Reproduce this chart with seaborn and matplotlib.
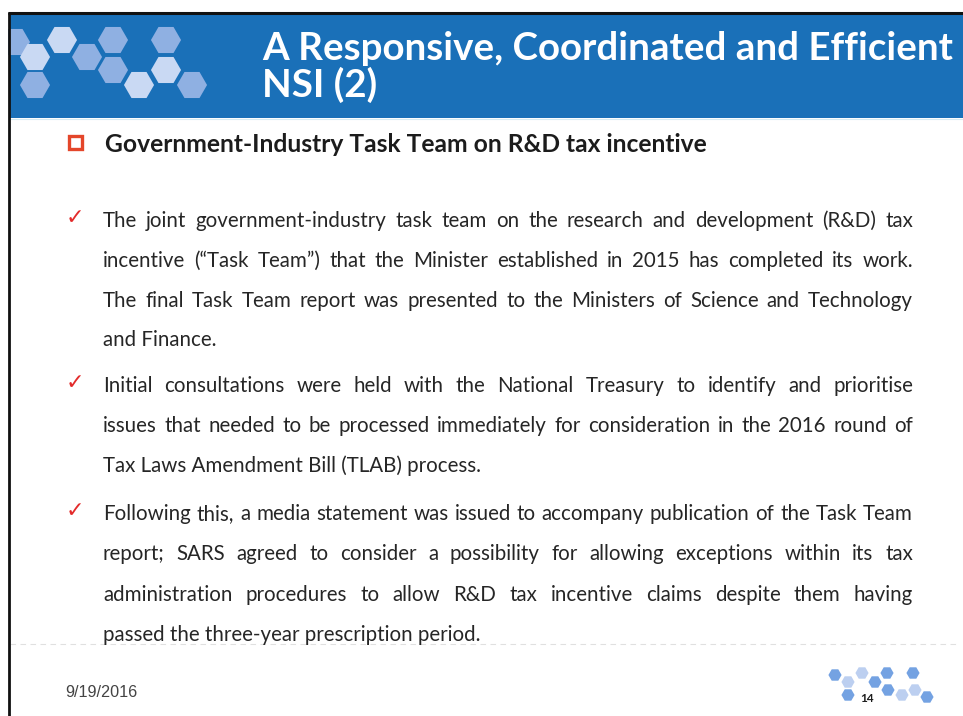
import matplotlib
matplotlib.use("Agg")
import matplotlib.pyplot as plt
import seaborn as sns
import pandas as pd
from matplotlib.patches import Rectangle

# ---------------- data ----------------
title_lines = ["A Responsive, Coordinated and Efficient", "NSI (2)"]
heading = "Government-Industry Task Team on R&D tax incentive"
paragraphs = [
    ["The joint government-industry task team on the research and development (R&D) tax",
     "incentive (\u201cTask Team\u201d) that the Minister established in 2015 has completed its work.",
     "The final Task Team report was presented to the Ministers of Science and Technology",
     "and Finance."],
    ["Initial consultations were held with the National Treasury to identify and prioritise",
     "issues that needed to be processed immediately for consideration in the 2016 round of",
     "Tax Laws Amendment Bill (TLAB) process."],
    ["Following this, a media statement was issued to accompany publication of the Task Team",
     "report; SARS agreed to consider a possibility for allowing exceptions within its tax",
     "administration procedures to allow R&D tax incentive claims despite them having",
     "passed the three-year prescription period."],
]
date_label = "9/19/2016"
page_label = "14"

# decorative hexagon logo (top-left) and small logo (bottom-right)
logo_x = [15, 35, 62, 87, 113, 35, 113, 139, 166, 166, 192]
logo_y = [42, 57, 40, 57, 40, 85, 70, 85, 40, 70, 85]
logo_tone = ["mid", "pale", "pale", "mid", "mid", "mid", "mid", "pale", "mid", "pale", "mid"]
mini_x = [835, 848, 862, 875, 887, 888, 848, 902, 913, 915, 927]
mini_y = [675, 682, 673, 682, 673, 690, 695, 695, 673, 690, 697]
mini_tone = ["mid", "pale", "pale", "mid", "mid", "mid", "mid", "pale", "mid", "pale", "mid"]

# ---------------- layout ----------------
W, H = 963, 716
sns.set_theme(style="white")
plt.rcParams['font.family'] = ['Lato', 'DejaVu Sans']

fig = plt.figure(figsize=(W / 100, H / 100), dpi=100)
ax = fig.add_axes([0, 0, 1, 1])
ax.set_xlim(0, W)
ax.set_ylim(H, 0)
ax.axis('off')
fig.patch.set_facecolor('white')

fig.canvas.draw()
rend = fig.canvas.get_renderer()


def text_width(s, size, weight='normal', family=None):
    kw = {} if family is None else {'family': family}
    t = ax.text(0, 0, s, fontsize=size, fontweight=weight, **kw)
    w = t.get_window_extent(rend).width
    t.remove()
    return w


def fit_size(s, target, weight='normal', family=None):
    return 10 * target / text_width(s, 10, weight, family)


# banner and borders
BANNER = '#1a70b8'
ax.add_patch(Rectangle((10, 14), W - 10, 104, facecolor=BANNER, edgecolor='none', zorder=1))
ax.plot([8, W], [12.5, 12.5], color='#111111', lw=2.2, solid_capstyle='butt', zorder=5)
ax.plot([9, 9], [11.5, H], color='#111111', lw=2.0, solid_capstyle='butt', zorder=5)
ax.plot([10, W], [119, 119], color='#d6ecf4', lw=0.8, zorder=2)

# hexagon logos
logo_df = pd.DataFrame({'x': logo_x, 'y': logo_y, 'tone': logo_tone})
sns.scatterplot(data=logo_df, x='x', y='y', hue='tone', marker='H', s=470,
                palette={'mid': '#8fb0e2', 'pale': '#c9d9f3'}, linewidth=0,
                legend=False, ax=ax, zorder=3)
mini_df = pd.DataFrame({'x': mini_x, 'y': mini_y, 'tone': mini_tone})
sns.scatterplot(data=mini_df, x='x', y='y', hue='tone', marker='H', s=90,
                palette={'mid': '#74a2e2', 'pale': '#bccff0'}, linewidth=0,
                legend=False, ax=ax, zorder=3)
ax.set_xlim(0, W)
ax.set_ylim(H, 0)
ax.axis('off')
# keep the partial hexagon inside the banner
ax.add_patch(Rectangle((0, 12), 8, 110, facecolor='white', edgecolor='none', zorder=4))

# title
ts = fit_size(title_lines[0], 693, 'bold')
ax.text(262, 60, title_lines[0], color='white', fontsize=ts, fontweight='bold', va='baseline', zorder=6)
ax.text(262, 97, title_lines[1], color='white', fontsize=ts, fontweight='bold', va='baseline', zorder=6)

# heading with hollow square bullet
hs = fit_size(heading, 604, 'bold')
ax.add_patch(Rectangle((69, 135.5), 13, 13, facecolor='white', edgecolor='#e4462a', lw=2.4, zorder=6))
ax.text(105, 152, heading, color='#1c1c1c', fontsize=hs, fontweight='bold', va='baseline', zorder=6)

# body paragraphs (justified)
TEXT_COL = '#262626'
refs = [(paragraphs[0][-1], 110), (paragraphs[1][-1], 361), (paragraphs[2][-1], 389)]
sizes = [fit_size(s, w) for s, w in refs]
bs = (sizes[1] + sizes[2] * 2) / 3
LEFT, RIGHT = 103, 913
baselines = [[227, 267, 307, 346], [392, 432, 472], [520, 560, 601, 641]]

for para, bl in zip(paragraphs, baselines):
    ax.text(66, bl[0] - 9, '\u2713', family='DejaVu Sans', color='#e32b2b',
            fontsize=16, va='center', ha='left', zorder=6)
    for i, (line, y) in enumerate(zip(para, bl)):
        if i == len(para) - 1:
            ax.text(LEFT, y, line, color=TEXT_COL, fontsize=bs, va='baseline', zorder=6)
            continue
        words = line.split(' ')
        widths = [text_width(w_, bs) for w_ in words]
        gap = (RIGHT - LEFT - sum(widths)) / (len(words) - 1)
        x = LEFT
        for w_, wd in zip(words, widths):
            ax.text(x, y, w_, color=TEXT_COL, fontsize=bs, va='baseline', zorder=6)
            x += wd + gap

# footer
ax.plot([10, 960], [644, 644], color='#e0e0e0', lw=0.8, ls=(0, (5, 4)), zorder=2)
ds = fit_size(date_label, 72, family='Liberation Sans')
ax.text(65, 697, date_label, color='#444444', fontsize=ds, family='Liberation Sans', va='baseline', zorder=6)
ax.text(867, 698, page_label, color='#1c1c1c', fontsize=8.5, fontweight='bold',
        ha='center', va='center', zorder=6)

fig.savefig('out.png', dpi=100, facecolor='white')
